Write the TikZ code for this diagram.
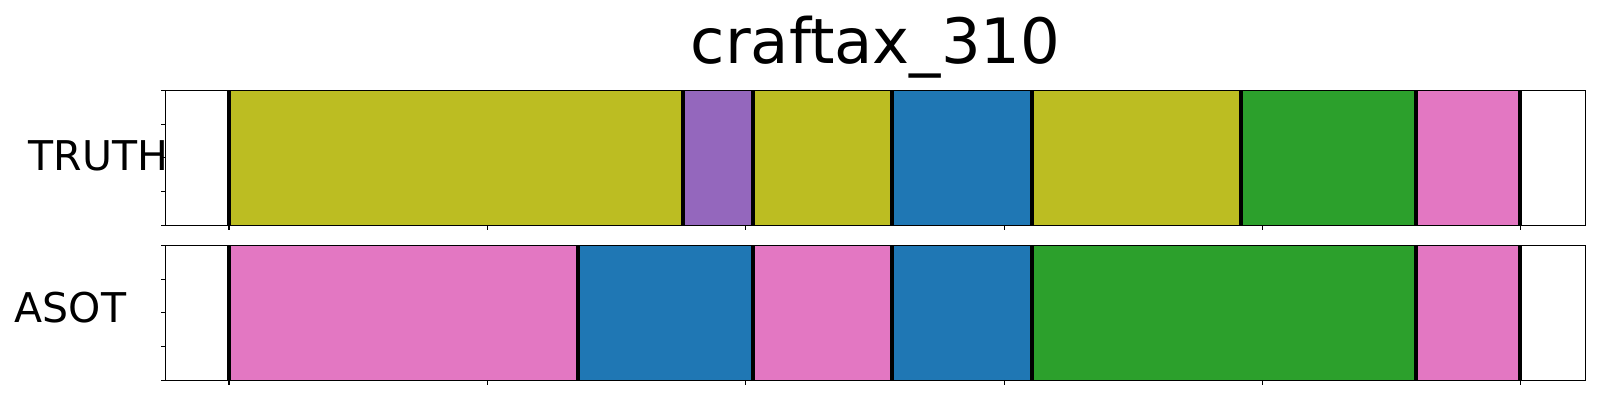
\documentclass[tikz,border=0pt]{standalone}
\usepackage{fontspec}
\setmainfont{DejaVu Sans}
\definecolor{olive}{HTML}{BCBD22}
\definecolor{purp}{HTML}{9467BD}
\definecolor{blu}{HTML}{1F77B4}
\definecolor{grn}{HTML}{2CA02C}
\definecolor{pnk}{HTML}{E377C2}
\tikzset{
  frame/.style={draw=black, line width=1.1pt},
  bound/.style={draw=black, line width=3.7pt},
  tick/.style={draw=black, line width=1.1pt},
  lbl/.style={inner sep=0pt, anchor=base west, font=\fontsize{41}{49}\selectfont},
}
\begin{document}
\begin{tikzpicture}[x=1pt, y=-1pt]
\useasboundingbox[fill=white] (0,0) rectangle (1600,400);
% title
\node[inner sep=0pt, anchor=base, font=\fontsize{62.5}{75}\selectfont] (title) at (875.5,63.3) {craftax\_310};
% top row segments
\def\ya{90.3}\def\yb{225.3}
\fill[olive] (229,\ya) rectangle (682.8,\yb);
\fill[purp] (682.8,\ya) rectangle (752.8,\yb);
\fill[olive] (752.8,\ya) rectangle (891.8,\yb);
\fill[blu] (891.8,\ya) rectangle (1031.8,\yb);
\fill[olive] (1031.8,\ya) rectangle (1241,\yb);
\fill[grn] (1241,\ya) rectangle (1416,\yb);
\fill[pnk] (1416,\ya) rectangle (1520.2,\yb);
\foreach \b in {229,682.8,752.8,891.8,1031.8,1241,1416,1520.2}
  \draw[bound] (\b,\ya) -- (\b,\yb);
% bottom row segments
\def\yc{245.3}\def\yd{380.3}
\fill[pnk] (229,\yc) rectangle (577.7,\yd);
\fill[blu] (577.7,\yc) rectangle (752.8,\yd);
\fill[pnk] (752.8,\yc) rectangle (891.8,\yd);
\fill[blu] (891.8,\yc) rectangle (1031.8,\yd);
\fill[grn] (1031.8,\yc) rectangle (1416,\yd);
\fill[pnk] (1416,\yc) rectangle (1520.2,\yd);
\foreach \b in {229,577.7,752.8,891.8,1031.8,1416,1520.2}
  \draw[bound] (\b,\yc) -- (\b,\yd);
% frames
\draw[frame] (165.7,\ya) rectangle (1585.3,\yb);
\draw[frame] (165.7,\yc) rectangle (1585.3,\yd);
% x ticks
\foreach \t in {229,487.5,745.8,1004.1,1262.4,1520.2}{
  \draw[tick] (\t,\yb) -- ++(0,4.9);
  \draw[tick] (\t,\yd) -- ++(0,4.9);
}
% y ticks
\foreach \i in {0,1,2,3,4}{
  \draw[tick] (165.7,{\ya+\i*33.75}) -- ++(-4.9,0);
  \draw[tick] (165.7,{\yc+\i*33.75}) -- ++(-4.9,0);
}
% labels
\node[lbl] (truth) at (28.5,170) {TRUTH};
\node[lbl] (asot) at (14.5,322.7) {ASOT};
\end{tikzpicture}
\end{document}
